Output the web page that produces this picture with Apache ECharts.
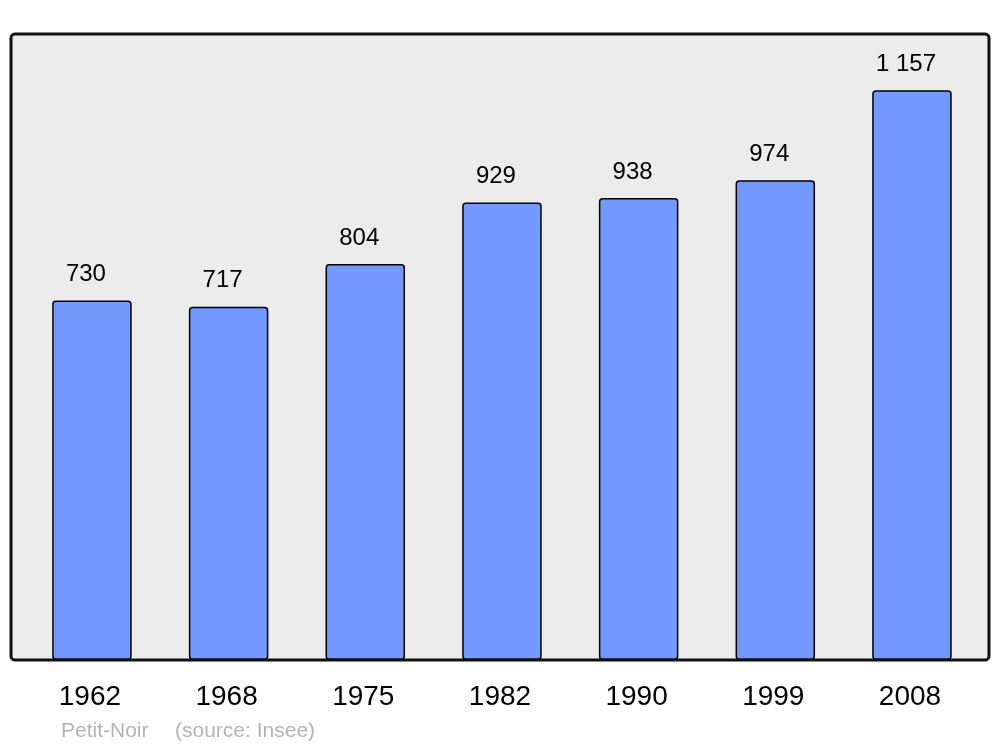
<!DOCTYPE html>
<html>
<head>
<meta charset="utf-8">
<script src="https://cdn.jsdelivr.net/npm/echarts@6/dist/echarts.min.js"></script>
<style>
html,body{margin:0;padding:0;background:#fff;}
#c{width:1000px;height:747px;}
</style>
</head>
<body>
<div id="c"></div>
<script>
const years = ['1962', '1968', '1975', '1982', '1990', '1999', '2008'];
const population = [730, 717, 804, 929, 938, 974, 1157];
const footerName = 'Petit-Noir';
const footerSource = '(source: Insee)';

const chart = echarts.init(document.getElementById('c'), null, {renderer: 'canvas'});
const fmt = v => String(v).replace(/\B(?=(\d{3})+(?!\d))/g, ' ');

chart.setOption({
  animation: false,
  backgroundColor: '#ffffff',
  textStyle: {fontFamily: 'Liberation Sans, Arial, sans-serif'},
  grid: {left: 23.6, right: 19.7, top: 34, bottom: 87, containLabel: false},
  xAxis: {
    type: 'category',
    data: years,
    axisLine: {show: false},
    axisTick: {show: false},
    axisLabel: {color: '#000', fontSize: 28, margin: 23, padding: [0, 4, 0, 0], fontFamily: 'Liberation Sans, Arial, sans-serif'}
  },
  yAxis: {
    type: 'value',
    min: 0,
    max: 1271,
    show: false,
    splitLine: {show: false}
  },
  graphic: [
    {type: 'rect', z: -10, shape: {x: 11, y: 34, width: 978, height: 626, r: 4},
     style: {fill: '#ececec', stroke: null}},
    {type: 'rect', z: 100, silent: true, shape: {x: 11, y: 34, width: 978, height: 626, r: 4},
     style: {fill: null, stroke: '#111', lineWidth: 3}},
    {type: 'text', left: 61, top: 721, style: {text: footerName, fill: '#b3b3b3', fontSize: 21, fontFamily: 'Liberation Sans, Arial, sans-serif'}},
    {type: 'text', left: 175, top: 721, style: {text: footerSource, fill: '#b3b3b3', fontSize: 21, fontFamily: 'Liberation Sans, Arial, sans-serif'}}
  ],
  series: [{
    type: 'bar',
    data: population,
    barWidth: 79.5,
    itemStyle: {color: '#7399ff', borderColor: '#000', borderWidth: 1.5, borderRadius: [3, 3, 3, 3]},
    label: {
      show: true,
      position: 'top',
      distance: 14,
      offset: [-6, 0],
      color: '#000',
      fontSize: 24,
      fontFamily: 'Liberation Sans, Arial, sans-serif',
      formatter: p => fmt(p.value)
    }
  }]
});
</script>
</body>
</html>
